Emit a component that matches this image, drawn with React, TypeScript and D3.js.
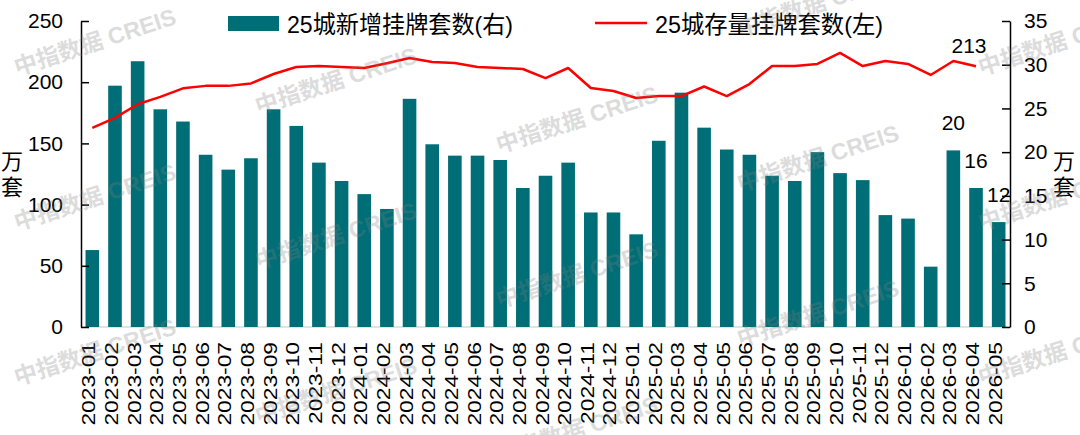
import { useEffect, useRef } from "react";
import * as d3 from "d3";

const months = [
  "2023-01", "2023-02", "2023-03", "2023-04", "2023-05", "2023-06", "2023-07", "2023-08", "2023-09", "2023-10", "2023-11", "2023-12",
  "2024-01", "2024-02", "2024-03", "2024-04", "2024-05", "2024-06", "2024-07", "2024-08", "2024-09", "2024-10", "2024-11", "2024-12",
  "2025-01", "2025-02", "2025-03", "2025-04", "2025-05", "2025-06", "2025-07", "2025-08", "2025-09", "2025-10", "2025-11", "2025-12",
  "2026-01", "2026-02", "2026-03", "2026-04", "2026-05",
];

// 25城新增挂牌套数 (万套, right axis)
const newListings = [
  8.8, 27.6, 30.4, 24.9, 23.5, 19.7, 18.0, 19.3, 24.9, 23.0, 18.8, 16.7,
  15.2, 13.5, 26.1, 20.9, 19.6, 19.6, 19.1, 15.9, 17.3, 18.8, 13.1, 13.1,
  10.6, 21.3, 26.8, 22.8, 20.3, 19.7, 17.3, 16.7, 20.0, 17.6, 16.8, 12.8,
  12.4, 6.9, 20.2, 15.9, 12.0,
];

// 25城存量挂牌套数 (万套, left axis), 2023-01 .. 2026-04
const stockListings = [
  162.6, 170.8, 182, 188, 195, 197, 197, 199, 206.7, 212.4, 213.2, 212.4,
  211.6, 215.5, 219.8, 216.5, 215.7, 212.4, 211.6, 210.8, 203.4, 211.6, 195.3, 192.8,
  187.1, 188.7, 188.7, 196.5, 188.7, 198.5, 213.2, 213.2, 214.9, 223.9, 213.2, 217.3,
  214.9, 205.9, 217.3, 213,
];

const leftTicks = [0, 50, 100, 150, 200, 250];
const rightTicks = [0, 5, 10, 15, 20, 25, 30, 35];
const labeledBars = ["2026-03", "2026-04", "2026-05"];
const seriesNames = ["25城新增挂牌套数(右)", "25城存量挂牌套数(左)"];
const unitChars = ["万", "套"];
const watermark = "中指数据 CREIS";

const FONT = "'Liberation Sans', 'Noto Sans CJK SC', Arial, sans-serif";
const TEAL = "#006e76";
const RED = "#ff0000";

export default function App() {
  const ref = useRef<SVGSVGElement>(null);

  useEffect(() => {
    if (!ref.current) return;
    const svg = d3.select(ref.current);
    svg.selectAll("*").remove();
    const m = { l: 81, r: 1010, t: 21, b: 327 };

    const x = d3.scaleBand<string>().domain(months).range([m.l, m.r]).paddingInner(0.4).paddingOuter(0.2);
    const yL = d3.scaleLinear().domain([0, 250]).range([m.b, m.t]);
    const yR = d3.scaleLinear().domain([0, 35]).range([m.b, m.t]);
    const cx = (d: string) => (x(d) as number) + x.bandwidth() / 2;

    svg.append("rect").attr("width", 1080).attr("height", 435).attr("fill", "#fff");

    // baseline
    svg.append("line")
      .attr("x1", m.l).attr("x2", m.r).attr("y1", m.b).attr("y2", m.b)
      .attr("stroke", "#d9d9d9").attr("stroke-width", 1.5);

    // bars
    svg.append("g").selectAll("rect")
      .data(months)
      .join("rect")
      .attr("x", (d) => x(d) as number)
      .attr("width", x.bandwidth())
      .attr("y", (_, i) => yR(newListings[i]))
      .attr("height", (_, i) => m.b - yR(newListings[i]))
      .attr("fill", TEAL);

    // stock line
    const line = d3.line<number>()
      .x((_, i) => cx(months[i]))
      .y((d) => yL(d));
    svg.append("path")
      .datum(stockListings)
      .attr("fill", "none")
      .attr("stroke", RED)
      .attr("stroke-width", 2.5)
      .attr("stroke-linejoin", "round")
      .attr("d", line);

    // axes
    const styleAxis = (g: any) => {
      g.select(".domain").attr("stroke", "#000").attr("stroke-width", 1.5);
      g.selectAll(".tick line").attr("stroke", "#000").attr("stroke-width", 1.5);
      g.selectAll("text").attr("font-family", FONT).attr("font-size", 21).attr("fill", "#000");
    };
    svg.append("g")
      .attr("transform", `translate(${m.l},0)`)
      .call(d3.axisLeft(yL).tickValues(leftTicks).tickSizeInner(-8).tickSizeOuter(0).tickPadding(18))
      .call(styleAxis);
    svg.append("g")
      .attr("transform", `translate(${m.r},0)`)
      .call(d3.axisRight(yR).tickValues(rightTicks).tickSizeInner(-8).tickSizeOuter(0).tickPadding(14))
      .call(styleAxis);

    // x labels
    svg.append("g").selectAll("text")
      .data(months)
      .join("text")
      .attr("transform", (d) => `translate(${cx(d)},342) rotate(-90) scale(1.2,1)`)
      .attr("text-anchor", "end")
      .attr("dy", 3)
      .attr("font-family", FONT)
      .attr("font-size", 19)
      .attr("fill", "#000")
      .text((d) => d);

    // unit labels
    [12, 1064].forEach((ux) => {
      svg.append("g").selectAll("text")
        .data(unitChars)
        .join("text")
        .attr("x", ux)
        .attr("y", (_, i) => 161 + i * 26)
        .attr("text-anchor", "middle")
        .attr("dominant-baseline", "central")
        .attr("font-family", FONT)
        .attr("font-size", 22)
        .attr("fill", "#000")
        .text((d) => d);
    });

    // data labels
    labeledBars.forEach((mo) => {
      const i = months.indexOf(mo);
      svg.append("text")
        .attr("x", cx(mo))
        .attr("y", yR(newListings[i]) - 20)
        .attr("text-anchor", "middle")
        .attr("font-family", FONT)
        .attr("font-size", 21)
        .attr("fill", "#000")
        .text(d3.format(".0f")(newListings[i]));
    });
    const li = stockListings.length - 1;
    svg.append("text")
      .attr("x", cx(months[li]) - 7)
      .attr("y", yL(stockListings[li]) - 13)
      .attr("text-anchor", "middle")
      .attr("font-family", FONT)
      .attr("font-size", 21)
      .attr("fill", "#000")
      .text(d3.format(".0f")(stockListings[li]));

    // legend
    svg.append("rect").attr("x", 228).attr("y", 16).attr("width", 51).attr("height", 15).attr("fill", TEAL);
    svg.append("text")
      .attr("x", 287).attr("y", 24)
      .attr("dominant-baseline", "central")
      .attr("font-family", FONT).attr("font-size", 24)
      .attr("textLength", 226).attr("lengthAdjust", "spacingAndGlyphs")
      .attr("fill", "#000")
      .text(seriesNames[0]);
    svg.append("line")
      .attr("x1", 595).attr("x2", 647).attr("y1", 23).attr("y2", 23)
      .attr("stroke", RED).attr("stroke-width", 2.5);
    svg.append("text")
      .attr("x", 655).attr("y", 24)
      .attr("dominant-baseline", "central")
      .attr("font-family", FONT).attr("font-size", 24)
      .attr("textLength", 228).attr("lengthAdjust", "spacingAndGlyphs")
      .attr("fill", "#000")
      .text(seriesNames[1]);

    // watermark (tiled diagonally, only the ones that land on the canvas)
    const wm = svg.append("g").attr("pointer-events", "none");
    for (let r = -1; r <= 2; r++) {
      for (let k = 0; k < 5; k++) {
        const wx = 95 + 241 * k;
        const wy = 42 + 155 * r + 38.75 * k;
        if (wy < 0 || wy > 445) continue;
        wm.append("text")
          .attr("transform", `translate(${wx},${wy}) rotate(-18)`)
          .attr("text-anchor", "middle")
          .attr("dominant-baseline", "central")
          .attr("font-family", FONT)
          .attr("font-weight", "bold")
          .attr("font-size", 23)
          .attr("fill", "#7f7f7f")
          .attr("opacity", 0.27)
          .text(watermark);
      }
    }
  }, []);

  return (
    <svg
      ref={ref}
      width={1080}
      height={435}
      style={{ position: "absolute", left: 0, top: 0 }}
    />
  );
}
